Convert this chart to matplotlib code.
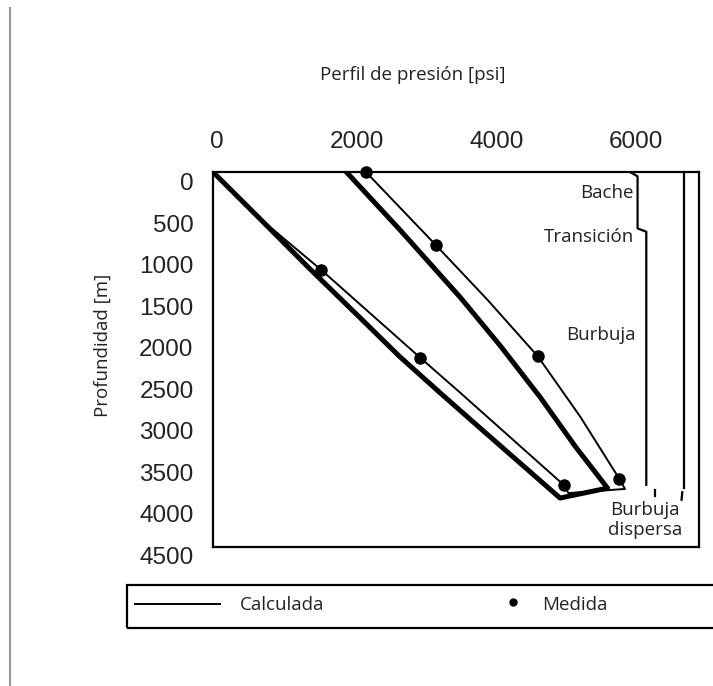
import numpy as np
import matplotlib
matplotlib.use("Agg")
from matplotlib import pyplot as plt
from matplotlib.transforms import ScaledTranslation
from matplotlib.lines import Line2D
from matplotlib.patches import Rectangle

# pressure [psi] vs depth [m]
# well 1 (left pair)
p_calc1_thick = [0, 680, 1390, 2110, 2680, 3250, 3830, 4400, 4970]
d_calc1_thick = [0, 570, 1170, 1760, 2230, 2660, 3090, 3510, 3930]
p_calc1_thin = [0, 530, 1550, 2970, 3540, 5020, 5090]
d_calc1_thin = [0, 460, 1180, 2240, 2660, 3770, 3870]
p_meas1 = [1550, 2970, 5020]
d_meas1 = [1180, 2240, 3770]

# well 2 (right pair)
p_calc2_thick = [1910, 2680, 3540, 4110, 4690, 5190, 5650]
d_calc2_thick = [0, 700, 1510, 2090, 2720, 3310, 3810]
p_calc2_thin = [2190, 3190, 3930, 4650, 5260, 5820, 5900]
d_calc2_thin = [0, 880, 1540, 2220, 2950, 3700, 3820]
p_meas2 = [2190, 3190, 4650, 5820]
d_meas2 = [0, 880, 2220, 3700]

# flow pattern boundaries
p_bound1 = [5970, 6075, 6080, 6080, 6205, 6205]
d_bound1 = [0, 50, 60, 680, 720, 3770]
p_bound1b = [6330, 6330]
d_bound1b = [3830, 3900]
p_bound2 = [6750, 6750]
d_bound2 = [0, 3810]
p_bound2b = [6720, 6710]
d_bound2b = [3860, 3950]

regions = ["Bache", "Transición", "Burbuja", "Burbuja\ndispersa"]
region_p = [6030, 6030, 6050, 6190]
region_d = [250, 780, 1960, 4190]

xticks = [0, 2000, 4000, 6000]
yticks = list(range(0, 5000, 500))

txt_font = "Open Sans"
num_font = "Liberation Sans"
txt_size = 13.5

fig = plt.figure(figsize=(7.13, 6.86), dpi=100)
ax = fig.add_axes([0.2987, 0.2026, 0.6817, 0.5467])
ax.set_xlim(0, 6960)
ax.set_ylim(4520, 0)

# thick lines: left curve, bottom, right curve up
ax.plot(p_calc1_thick + p_calc2_thick[::-1], d_calc1_thick + d_calc2_thick[::-1],
        color="black", lw=3.6, solid_joinstyle="round")
ax.plot(p_calc1_thin + p_calc2_thin[::-1], d_calc1_thin + d_calc2_thin[::-1],
        color="black", lw=1.4)
ax.plot(p_meas1 + p_meas2, d_meas1 + d_meas2, "o", color="black", ms=8, clip_on=False)

for p, d in [(p_bound1, d_bound1), (p_bound1b, d_bound1b),
             (p_bound2, d_bound2), (p_bound2b, d_bound2b)]:
    ax.plot(p, d, color="black", lw=1.6)

for name, p, d in zip(regions, region_p, region_d):
    ha = "center" if "\n" in name else "right"
    ax.text(p, d, name, ha=ha, va="center", fontsize=txt_size, family=txt_font,
            linespacing=1.15, color="#222222")

ax.xaxis.tick_top()
ax.set_xticks(xticks)
ax.set_yticks(yticks)
ax.tick_params(length=0, labelsize=17.5, pad=14)
for lbl in ax.get_xticklabels() + ax.get_yticklabels():
    lbl.set_family(num_font)
    lbl.set_color("#222222")
for t in ax.yaxis.get_major_ticks():
    t.label1.set_transform(t.label1.get_transform() + ScaledTranslation(0, -0.1, fig.dpi_scale_trans))
for t in ax.xaxis.get_major_ticks():
    t.label2.set_transform(t.label2.get_transform() + ScaledTranslation(0.04, 0, fig.dpi_scale_trans))
for s in ax.spines.values():
    s.set_linewidth(1.6)

fig.text(413 / 713, 1 - 75 / 686, "Perfil de presión [psi]", ha="center", va="center",
         fontsize=txt_size, family=txt_font, color="#222222")
fig.text(103 / 713, 1 - 345 / 686, "Profundidad [m]", ha="center", va="center",
         rotation=90, fontsize=txt_size, family=txt_font, color="#222222")

# legend box, runs off the right edge
fig.patches.append(Rectangle((127 / 713, 1 - 628 / 686), 0.9, 43 / 686, transform=fig.transFigure,
                             fill=False, lw=1.6, edgecolor="black"))
fig.lines.append(Line2D([135 / 713, 220 / 713], [1 - 604 / 686] * 2, transform=fig.transFigure,
                        color="black", lw=1.4))
fig.lines.append(Line2D([513 / 713], [1 - 602 / 686], transform=fig.transFigure,
                        marker="o", color="black", ms=5, ls="none"))
fig.text(240 / 713, 1 - 605 / 686, "Calculada", ha="left", va="center", fontsize=txt_size,
         family=txt_font, color="#222222")
fig.text(542 / 713, 1 - 605 / 686, "Medida", ha="left", va="center", fontsize=txt_size,
         family=txt_font, color="#222222")

# grey rule at the far left
fig.lines.append(Line2D([10 / 713] * 2, [0, 1 - 8 / 686], transform=fig.transFigure,
                        color="#999999", lw=1.5))

fig.savefig("out.png", dpi=100)
